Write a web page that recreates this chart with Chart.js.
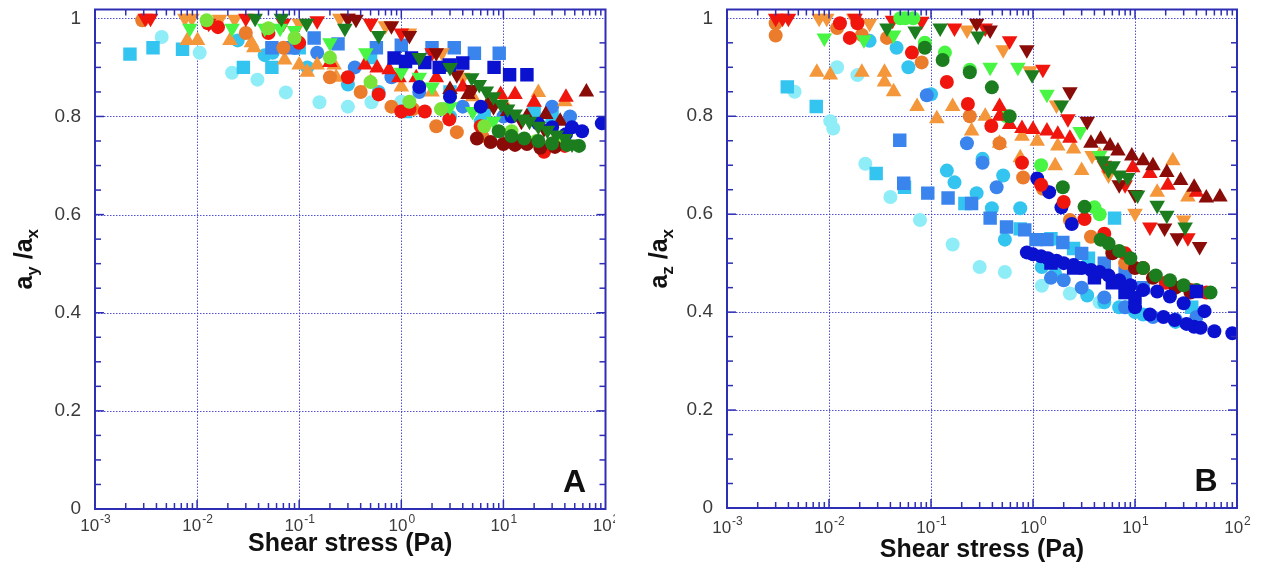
<!DOCTYPE html>
<html>
<head>
<meta charset="utf-8">
<script src="https://cdn.jsdelivr.net/npm/chart.js@4.4.1/dist/chart.umd.min.js"></script>
<style>
html, body { margin: 0; padding: 0; background: #fff; }
body { width: 1278px; height: 576px; position: relative; overflow: hidden; }
.panel { position: absolute; top: 0; height: 576px; }
#panelA { left: 0; width: 615px; }
#panelB { left: 640px; width: 638px; }
</style>
</head>
<body>
<div class="panel" id="panelA"><canvas id="chartA"></canvas></div>
<div class="panel" id="panelB"><canvas id="chartB"></canvas></div>
<script>
/* ===== Axes ===== */
const xTicks = [0.001, 0.01, 0.1, 1, 10, 100];
const xExps = ['-3', '-2', '-1', '0', '1', '2'];
const yTicks = [0, 0.2, 0.4, 0.6, 0.8, 1];
const yTickLabels = ['0', '0.2', '0.4', '0.6', '0.8', '1'];
const yMax = 1.018;
const xTitle = 'Shear stress (Pa)';

/* ===== Panel A : ay/ax  ([shear stress, ratio]) ===== */
const aDarkGreenDown = [[0.037,1.0],[0.067,1.0],[0.118,0.99],[0.28,0.98],[0.6,0.965],[1.5,0.92],[3,0.9],[4.9,0.879],[5.8,0.865],[6.8,0.852],[8,0.84],[9.5,0.825],[11,0.815],[13,0.805],[15.5,0.795],[18,0.79],[22,0.78],[27,0.772],[33,0.762],[40,0.755],[47,0.744]];
const aDarkGreenCircle = [[9,0.77],[12,0.76],[16,0.755],[22,0.75],[30,0.745],[42,0.742],[55,0.74]];
const aDarkRedCircle = [[5.5,0.755],[7.5,0.748],[10,0.744],[13,0.742],[17,0.744],[23,0.736],[32,0.738]];
const aDarkBlueSquare = [[0.85,0.919],[1.1,0.912],[1.26,0.919],[1.7,0.91],[2.35,0.9],[2.95,0.905],[4,0.909],[8.1,0.9],[11.5,0.885],[17,0.885]];
const aDarkBlueCircle = [[1.5,0.86],[3,0.84],[6,0.82],[12,0.8],[22,0.785],[30,0.778],[41,0.764],[47,0.778],[59,0.77],[92,0.786]];
const aDarkRedDown = [[0.3,1.0],[0.36,0.998],[0.8,0.985],[1.2,0.965],[2.2,0.93],[3.5,0.885],[5,0.855],[8,0.82],[15,0.79],[25,0.775],[40,0.76]];
const aDarkRedUp = [[3,0.855],[4.5,0.845],[7,0.825],[11,0.81],[17,0.8],[26,0.804],[36,0.79],[65,0.85]];
const aRedUp = [[0.2,0.91],[0.44,0.905],[0.58,0.899],[0.76,0.895],[0.95,0.879],[1.4,0.879],[2.2,0.879],[4,0.86],[9.4,0.845],[13,0.845],[20,0.829],[41,0.839]];
const aRedDown = [[0.0031,1.0],[0.0035,1.0],[0.013,0.99],[0.03,1.0],[0.07,0.99],[0.15,0.995],[0.3,1.0],[0.5,0.99],[1,0.97],[2,0.93]];
const aRedCircle = [[0.0128,0.99],[0.016,0.982],[0.05,0.97],[0.1,0.95],[0.3,0.88],[0.6,0.845],[1.0,0.81],[1.2,0.815],[1.7,0.81],[2.95,0.794],[6,0.78],[12,0.76],[25,0.728],[40,0.74]];
const aOrangeUp = [[0.008,0.955],[0.0101,0.955],[0.021,0.955],[0.034,0.95],[0.036,0.94],[0.072,0.915],[0.1,0.905],[0.12,0.89],[0.15,0.905],[0.22,0.905],[0.23,0.88],[0.5,0.87],[1.0,0.86],[2,0.85],[5,0.84],[10,0.83],[22,0.849],[40,0.83]];
const aOrangeDown = [[0.0076,1.0],[0.0089,1.0],[0.0166,0.998],[0.0233,0.998],[0.1,0.99],[0.25,1.0],[0.5,0.99],[0.7,0.985],[1.2,0.97],[2.5,0.93],[4,0.88]];
const aOrangeCircle = [[0.0029,0.996],[0.03,0.97],[0.07,0.94],[0.2,0.88],[0.4,0.85],[0.8,0.82],[1.3,0.815],[2.2,0.78],[3.5,0.768],[6.2,0.76],[15,0.75],[30,0.745]];
const aLightGreenDown = [[0.0085,0.98],[0.022,0.98],[0.046,0.98],[0.065,0.98],[0.09,0.975],[0.2,0.95],[0.45,0.93],[1,0.89],[1.5,0.88],[2,0.86],[3,0.82],[5,0.81],[8,0.79]];
const aGreenCircle = [[0.0124,0.996],[0.05,0.98],[0.09,0.96],[0.2,0.92],[0.5,0.87],[1.2,0.83],[2.45,0.815],[6.5,0.78],[12,0.77],[21,0.75],[35,0.755]];
const aMedBlueSquare = [[0.054,0.94],[0.086,0.94],[0.14,0.96],[0.24,0.948],[0.57,0.94],[1.0,0.945],[2.0,0.94],[3.3,0.94],[5.2,0.929],[9.1,0.929]];
const aMedBlueCircle = [[0.09,0.94],[0.15,0.93],[0.35,0.9],[0.8,0.88],[1.5,0.85],[4,0.82],[10,0.8],[30,0.82],[45,0.8]];
const aSkyBlueSquare = [[0.0022,0.927],[0.0037,0.94],[0.0072,0.937],[0.0284,0.9],[0.054,0.9],[0.1,0.94],[0.5,0.92],[1.1,0.81],[3,0.85],[6.5,0.81],[20,0.81],[30,0.8]];
const aSkyBlueCircle = [[0.025,0.955],[0.046,0.925],[0.055,0.93],[0.12,0.9],[0.3,0.865],[0.6,0.85],[1.2,0.82],[3,0.8],[6,0.79]];
const aLightCyanCircle = [[0.0045,0.962],[0.0106,0.93],[0.022,0.889],[0.039,0.875],[0.074,0.849],[0.158,0.829],[0.3,0.82],[0.51,0.829],[1.0,0.83]];

/* ===== Panel B : az/ax ===== */
const bDarkBlueCircle = [[0.87,0.522],[1.0,0.518],[1.2,0.514],[1.4,0.51],[1.7,0.505],[2,0.5],[2.5,0.496],[3,0.49],[3.7,0.486],[4.5,0.482],[5.5,0.475],[7,0.465],[9,0.455],[12,0.445],[16.5,0.442],[22,0.432],[30,0.418],[48,0.402],[10,0.41],[14,0.395],[19,0.39],[24.5,0.384],[32,0.376],[38,0.37],[44,0.368],[60,0.361],[90,0.357]];
const bDarkBlueCircle2 = [[1.1,0.673],[1.44,0.645],[1.9,0.614],[2.4,0.58]];
const bDarkBlueSquare = [[1.5,0.5],[2.5,0.49],[4,0.47],[6,0.46],[8,0.44],[10,0.43],[40,0.442]];
const bDarkGreenDown = [[0.037,0.98],[0.07,0.974],[0.123,0.98],[0.29,0.964],[0.98,0.885],[1.9,0.823],[4.8,0.709],[5.5,0.69],[6.1,0.699],[7,0.68],[8.5,0.675],[10.6,0.639],[16.5,0.618],[20.5,0.598],[31,0.574]];
const bDarkGreenCircle = [[0.087,0.94],[0.13,0.915],[0.24,0.89],[0.395,0.859],[0.59,0.8],[1.96,0.655],[3.2,0.615],[4.6,0.548],[5.5,0.54],[7,0.525],[9,0.51],[12,0.49],[16,0.475],[22,0.465],[30,0.455],[40,0.445],[55,0.44]];
const bDarkRedCircle = [[6,0.52],[10,0.49],[15,0.47],[25,0.45],[35,0.44]];
const bDarkRedUp = [[3.7,0.745],[4.6,0.753],[5.7,0.739],[6.8,0.729],[9.3,0.719],[12,0.709],[15,0.699],[20.5,0.685],[28,0.669],[38,0.655],[50,0.633],[68,0.635]];
const bDarkRedDown = [[0.28,0.99],[0.38,0.976],[0.87,0.936],[2.3,0.85],[3.4,0.79],[7,0.66],[10,0.64],[19.5,0.572],[26,0.552],[43,0.534]];
const bRedUp = [[0.47,0.82],[0.47,0.8],[0.59,0.783],[0.78,0.775],[1.0,0.773],[1.37,0.77],[1.75,0.763],[2.3,0.755],[9.5,0.695],[14,0.683],[21,0.659],[40,0.645]];
const bRedDown = [[0.003,1.0],[0.0035,1.0],[0.004,1.0],[0.018,1.0],[0.042,0.996],[0.081,0.994],[0.17,0.98],[0.34,0.98],[0.59,0.954],[1.25,0.896],[2.2,0.795],[5,0.7],[8,0.66],[14,0.574],[33,0.552]];
const bRedCircle = [[0.0128,0.99],[0.016,0.96],[0.019,0.99],[0.065,0.93],[0.143,0.87],[0.23,0.825],[0.39,0.78],[0.78,0.705],[1.2,0.66],[2.0,0.625],[3.2,0.59],[5,0.56],[8,0.52],[12,0.49],[20,0.46],[35,0.445],[50,0.44]];
const bOrangeUp = [[0.0076,0.89],[0.0103,0.884],[0.021,0.89],[0.035,0.89],[0.035,0.87],[0.043,0.85],[0.073,0.82],[0.114,0.795],[0.163,0.82],[0.25,0.77],[0.34,0.8],[0.47,0.745],[0.75,0.715],[0.78,0.759],[1.1,0.749],[1.65,0.699],[1.75,0.739],[2.5,0.733],[3.0,0.689],[4.5,0.72],[16.5,0.645],[23.5,0.709],[33,0.635]];
const bOrangeDown = [[0.008,1.0],[0.0095,1.0],[0.0175,1.0],[0.025,0.99],[0.226,0.976],[0.51,0.936],[0.93,0.893],[1.7,0.823],[3.8,0.72],[5.5,0.68],[10,0.602],[30,0.588]];
const bOrangeCircle = [[0.003,0.99],[0.003,0.965],[0.012,0.98],[0.021,0.966],[0.037,0.96],[0.081,0.91],[0.24,0.8],[0.47,0.745],[0.8,0.675],[1.25,0.652],[2.3,0.588],[3.7,0.554],[6,0.525],[8,0.5]];
const bLightGreenDown = [[0.009,0.96],[0.022,0.956],[0.043,0.966],[0.38,0.9],[0.71,0.9],[1.37,0.845],[2.9,0.769],[4.5,0.72]];
const bGreenCircle = [[0.05,1.0],[0.056,1.0],[0.067,1.0],[0.087,0.95],[0.137,0.93],[0.24,0.895],[0.55,0.8],[1.2,0.7],[4,0.614],[4.5,0.6]];
const bMedBlueSquare = [[0.0494,0.751],[0.054,0.663],[0.093,0.643],[0.147,0.633],[0.25,0.622],[0.38,0.592],[0.55,0.574],[0.83,0.568],[1.07,0.548],[1.37,0.548],[1.96,0.542],[3,0.52],[5,0.5],[8,0.48],[12,0.45]];
const bMedBlueCircle = [[0.091,0.843],[0.225,0.745],[0.32,0.705],[0.44,0.655],[1.5,0.47],[2,0.465],[3,0.45],[5,0.43],[8,0.41],[15,0.39],[25,0.385],[40,0.39]];
const bSkyBlueSquare = [[0.0039,0.86],[0.0075,0.82],[0.029,0.683],[0.055,0.655],[0.215,0.622],[0.75,0.57],[1.5,0.55],[2.5,0.53],[3.5,0.51],[6.3,0.592],[8,0.44],[36,0.41]];
const bSkyBlueCircle = [[0.025,0.954],[0.046,0.94],[0.06,0.9],[0.1,0.845],[0.143,0.689],[0.17,0.665],[0.28,0.643],[0.32,0.713],[0.51,0.679],[0.395,0.612],[0.75,0.612],[0.53,0.548],[1.22,0.492],[1.65,0.478],[3.4,0.434],[5,0.42],[7,0.41],[10,0.4],[12,0.395],[25,0.38]];
const bLightCyanCircle = [[0.0046,0.85],[0.0103,0.79],[0.011,0.775],[0.012,0.9],[0.019,0.884],[0.0227,0.703],[0.04,0.635],[0.078,0.588],[0.163,0.538],[0.3,0.492],[0.53,0.482],[1.22,0.454],[2.3,0.438],[4.5,0.42],[8,0.41]];

/* ===== Estilos ===== */
const C = {
    lightCyan: '#8eedf7', skyBlue: '#34c4f0', medBlue: '#3a84ee', darkBlue: '#0a12cf',
    red: '#f0160e', darkRed: '#8a0c08', orange: '#f4963a', orangeDark: '#ea7c2c',
    lightGreen: '#48f542', green: '#78e43a', darkGreen: '#1c7d1f'
};
const FRAME = '#2e2eb4';
const GRID = 'rgba(50,50,205,0.85)';
const FONT = '"Liberation Sans", Arial, sans-serif';

function ds(data, color, shape){
    const r = shape === 'circle' ? 7 : (shape === 'square' ? 9.5 : 9);
    return {
        data: data.map(([x, y]) => ({x, y})),
        backgroundColor: color,
        borderWidth: 0,
        pointStyle: shape === 'down' ? 'triangle' : (shape === 'square' ? 'rect' : shape),
        rotation: shape === 'down' ? 180 : 0,
        pointRadius: r, pointHoverRadius: r
    };
}

// first in list = drawn on top
const setsA = [
    ds(aDarkGreenDown, C.darkGreen, 'down'),
    ds(aDarkGreenCircle, C.darkGreen, 'circle'),
    ds(aDarkBlueSquare, C.darkBlue, 'square'),
    ds(aDarkBlueCircle, C.darkBlue, 'circle'),
    ds(aDarkRedCircle, C.darkRed, 'circle'),
    ds(aDarkRedDown, C.darkRed, 'down'),
    ds(aDarkRedUp, C.darkRed, 'triangle'),
    ds(aGreenCircle, C.green, 'circle'),
    ds(aLightGreenDown, C.lightGreen, 'down'),
    ds(aRedUp, C.red, 'triangle'),
    ds(aRedCircle, C.red, 'circle'),
    ds(aRedDown, C.red, 'down'),
    ds(aOrangeCircle, C.orangeDark, 'circle'),
    ds(aOrangeUp, C.orange, 'triangle'),
    ds(aOrangeDown, C.orange, 'down'),
    ds(aMedBlueSquare, C.medBlue, 'square'),
    ds(aMedBlueCircle, C.medBlue, 'circle'),
    ds(aSkyBlueSquare, C.skyBlue, 'square'),
    ds(aSkyBlueCircle, C.skyBlue, 'circle'),
    ds(aLightCyanCircle, C.lightCyan, 'circle')
];
const setsB = [
    ds(bDarkBlueCircle, C.darkBlue, 'circle'),
    ds(bDarkBlueSquare, C.darkBlue, 'square'),
    ds(bDarkGreenCircle, C.darkGreen, 'circle'),
    ds(bDarkRedCircle, C.darkRed, 'circle'),
    ds(bDarkGreenDown, C.darkGreen, 'down'),
    ds(bDarkRedUp, C.darkRed, 'triangle'),
    ds(bDarkRedDown, C.darkRed, 'down'),
    ds(bRedUp, C.red, 'triangle'),
    ds(bLightGreenDown, C.lightGreen, 'down'),
    ds(bGreenCircle, C.lightGreen, 'circle'),
    ds(bRedCircle, C.red, 'circle'),
    ds(bDarkBlueCircle2, C.darkBlue, 'circle'),
    ds(bRedDown, C.red, 'down'),
    ds(bOrangeCircle, C.orangeDark, 'circle'),
    ds(bOrangeUp, C.orange, 'triangle'),
    ds(bOrangeDown, C.orange, 'down'),
    ds(bMedBlueSquare, C.medBlue, 'square'),
    ds(bMedBlueCircle, C.medBlue, 'circle'),
    ds(bSkyBlueSquare, C.skyBlue, 'square'),
    ds(bSkyBlueCircle, C.skyBlue, 'circle'),
    ds(bLightCyanCircle, C.lightCyan, 'circle')
];

/* ===== Marco, rejilla, marcas y textos ===== */
const decor = {
    id: 'decor',
    beforeDatasetsDraw(chart){
        const {ctx, chartArea: a, scales: {x, y}} = chart;
        ctx.save();
        ctx.strokeStyle = GRID; ctx.lineWidth = 1; ctx.setLineDash([1.5, 1.5]);
        xTicks.slice(1, -1).forEach(v => {
            const px = Math.round(x.getPixelForValue(v)) + 0.5;
            ctx.beginPath(); ctx.moveTo(px, a.top); ctx.lineTo(px, a.bottom); ctx.stroke();
        });
        yTicks.slice(1).forEach(v => {
            const py = Math.round(y.getPixelForValue(v)) + 0.5;
            ctx.beginPath(); ctx.moveTo(a.left, py); ctx.lineTo(a.right, py); ctx.stroke();
        });
        ctx.restore();
    },
    afterDraw(chart, args, o){
        const {ctx, chartArea: a, scales: {x, y}} = chart;
        ctx.save();
        // marcas menores/mayores hacia dentro
        ctx.strokeStyle = FRAME; ctx.lineWidth = 1.5;
        const tick = (x1, y1, x2, y2) => { ctx.beginPath(); ctx.moveTo(x1, y1); ctx.lineTo(x2, y2); ctx.stroke(); };
        for (let d = 0; d < xTicks.length - 1; d++){
            for (let m = 1; m <= 9; m++){
                const px = x.getPixelForValue(xTicks[d] * m);
                const len = m === 1 ? 9 : 6;
                tick(px, a.bottom, px, a.bottom - len);
                tick(px, a.top, px, a.top + len);
            }
        }
        for (let k = 1; k < 20; k++){
            const py = y.getPixelForValue(k * 0.05);
            const len = k % 4 === 0 ? 9 : 6;
            tick(a.left, py, a.left + len, py);
            tick(a.right, py, a.right - len, py);
        }
        // marco
        ctx.lineWidth = 2;
        ctx.strokeRect(a.left, a.top, a.right - a.left, a.bottom - a.top);

        // etiquetas eje y
        ctx.fillStyle = '#3a3a3a';
        ctx.font = '19px ' + FONT;
        ctx.textAlign = 'right'; ctx.textBaseline = 'middle';
        yTicks.forEach((v, i) => ctx.fillText(yTickLabels[i], a.left - 14, y.getPixelForValue(v)));

        // etiquetas eje x con exponente
        ctx.textBaseline = 'alphabetic'; ctx.textAlign = 'left';
        xTicks.forEach((v, i) => {
            const px = x.getPixelForValue(v);
            ctx.font = '17px ' + FONT;
            const wb = ctx.measureText('10').width;
            ctx.font = '12px ' + FONT;
            const we = ctx.measureText(xExps[i]).width;
            const x0 = px - (wb + we) / 2;
            ctx.font = '17px ' + FONT;
            ctx.fillText('10', x0, a.bottom + o.xLabelDy);
            ctx.font = '12px ' + FONT;
            ctx.fillText(xExps[i], x0 + wb + 1, a.bottom + o.xLabelDy - 8);
        });

        // título eje x
        ctx.fillStyle = '#111';
        ctx.font = 'bold 25px ' + FONT;
        ctx.textAlign = 'center'; ctx.textBaseline = 'middle';
        ctx.fillText(xTitle, (a.left + a.right) / 2, a.bottom + o.xTitleDy);

        // título eje y con subíndices (rotado)
        ctx.translate(o.yTitleX, (a.top + a.bottom) / 2);
        ctx.rotate(-Math.PI / 2);
        const parts = [['a', 'bold 25px', 0], [o.sub, 'bold 17px', 6], [' /a', 'bold 25px', 0], ['x', 'bold 17px', 6]];
        let w = 0;
        parts.forEach(p => { ctx.font = p[1] + ' ' + FONT; w += ctx.measureText(p[0]).width; });
        let cx = -w / 2;
        ctx.textAlign = 'left'; ctx.textBaseline = 'alphabetic';
        parts.forEach(p => {
            ctx.font = p[1] + ' ' + FONT;
            ctx.fillText(p[0], cx, 7 + p[2]);
            cx += ctx.measureText(p[0]).width;
        });
        ctx.setTransform(1, 0, 0, 1, 0, 0);

        // letra del panel
        ctx.font = 'bold 32px ' + FONT;
        ctx.textAlign = 'center'; ctx.textBaseline = 'middle';
        ctx.fillStyle = '#111';
        ctx.fillText(o.letter, a.right - 31, a.bottom - 26);
        ctx.restore();
    }
};

function makeChart(id, sets, pad, opts){
    return new Chart(document.getElementById(id), {
        type: 'scatter',
        data: { datasets: sets },
        options: {
            responsive: true, maintainAspectRatio: false, animation: false,
            layout: { padding: pad },
            plugins: { legend: { display: false }, tooltip: { enabled: false }, decor: opts },
            scales: {
                x: { type: 'logarithmic', min: 0.001, max: 100,
                     ticks: { display: false }, grid: { display: false, drawTicks: false }, border: { display: false } },
                y: { type: 'linear', min: 0, max: yMax,
                     ticks: { display: false }, grid: { display: false, drawTicks: false }, border: { display: false } }
            }
        },
        plugins: [decor]
    });
}

makeChart('chartA', setsA, { left: 95, right: 9, top: 4, bottom: 67 },
    { letter: 'A', sub: 'y', yTitleX: 25, xLabelDy: 22, xTitleDy: 35 });
makeChart('chartB', setsB, { left: 87, right: 41, top: 1, bottom: 68 },
    { letter: 'B', sub: 'z', yTitleX: 20, xLabelDy: 25, xTitleDy: 42 });
</script>
</body>
</html>
